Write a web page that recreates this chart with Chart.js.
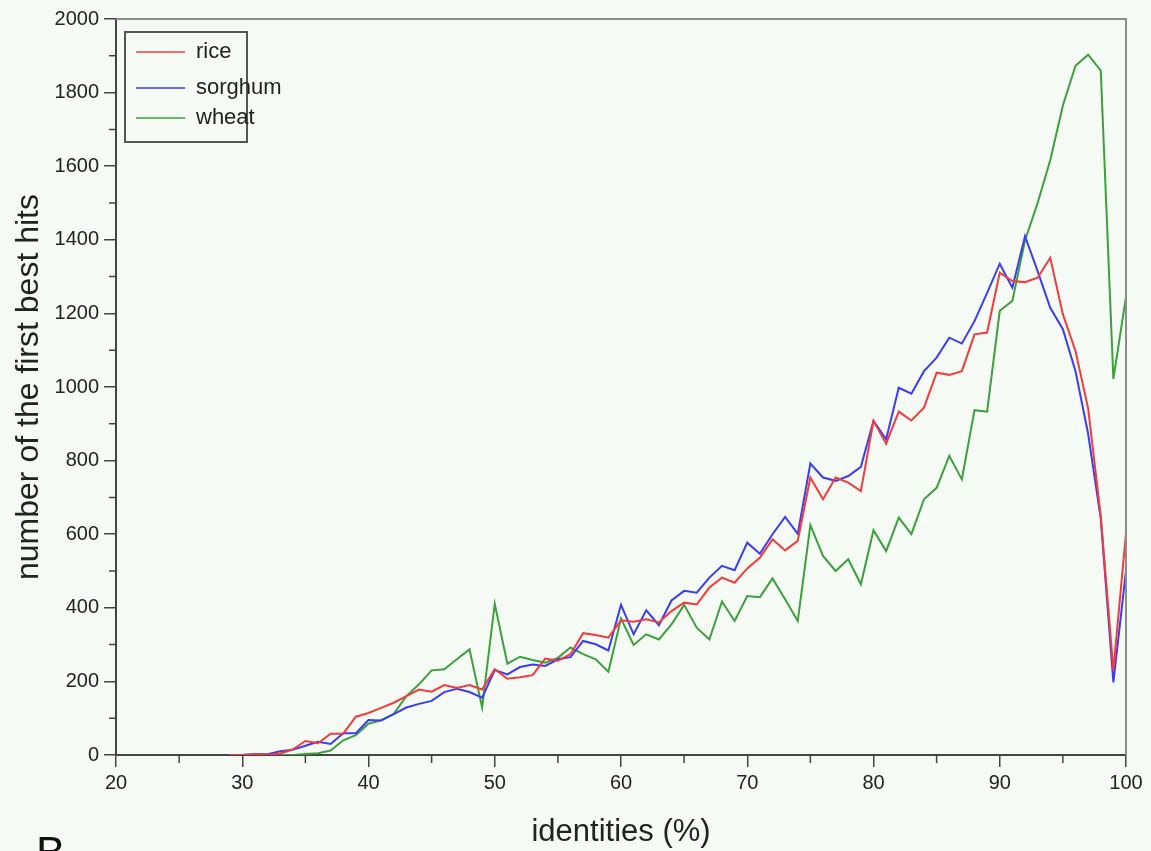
<!DOCTYPE html>
<html>
<head>
<meta charset="utf-8">
<script src="https://cdn.jsdelivr.net/npm/chart.js@4.4.1/dist/chart.umd.min.js"></script>
<style>
  html, body { margin: 0; padding: 0; background: #f5faf4; }
  #wrap { width: 1151px; height: 851px; position: relative; }
</style>
</head>
<body>
<div id="wrap"><canvas id="hits" width="1151" height="851"></canvas></div>
<script>
// identities (%) from 29 to 100
const identities = [
  29, 30, 31, 32, 33, 34, 35, 36, 37, 38, 39, 40, 41, 42, 43, 44, 45, 46, 47, 48,
  49, 50, 51, 52, 53, 54, 55, 56, 57, 58, 59, 60, 61, 62, 63, 64, 65, 66, 67, 68,
  69, 70, 71, 72, 73, 74, 75, 76, 77, 78, 79, 80, 81, 82, 83, 84, 85, 86, 87, 88,
  89, 90, 91, 92, 93, 94, 95, 96, 97, 98, 99, 100
];

const rice = [
  0, 0, 2, 1, 4, 15, 38, 32, 58, 58, 104, 114, 128, 142, 160, 178, 172, 190, 182, 190,
  178, 233, 207, 211, 217, 262, 256, 274, 331, 326, 319, 366, 362, 369, 360, 391, 414, 409, 455, 482,
  468, 507, 536, 586, 556, 582, 754, 695, 754, 740, 717, 908, 846, 933, 909, 944, 1039, 1033, 1043, 1143,
  1148, 1311, 1288, 1285, 1297, 1351, 1198, 1098, 942, 650, 230, 603
];

const sorghum = [
  0, 0, 3, 2, 10, 14, 25, 36, 30, 59, 59, 95, 94, 111, 129, 139, 147, 171, 180, 171,
  156, 231, 219, 239, 246, 242, 260, 266, 310, 301, 284, 408, 328, 393, 353, 420, 446, 441, 482, 514,
  502, 577, 547, 600, 647, 601, 792, 754, 745, 758, 783, 908, 858, 998, 982, 1043, 1080, 1134, 1118, 1179,
  1256, 1335, 1270, 1410, 1315, 1215, 1157, 1043, 873, 643, 197, 501
];

const wheat = [
  null, null, 0, 0, 0, 0, 3, 5, 12, 40, 54, 85, 94, 112, 160, 192, 230, 233, 260, 287,
  129, 411, 248, 267, 258, 251, 264, 292, 274, 260, 226, 371, 299, 328, 314, 355, 408, 346, 314, 417,
  364, 432, 429, 480, 423, 364, 625, 541, 500, 532, 464, 611, 554, 645, 600, 695, 726, 813, 749, 937,
  933, 1207, 1234, 1398, 1500, 1616, 1765, 1873, 1903, 1860, 1022, 1245
];

const seriesNames = ['rice', 'sorghum', 'wheat'];
const seriesColors = ['#f03c3c', '#3c3cf0', '#3ca03c'];

// tick values
const xMinorTicks = [25, 35, 45, 55, 65, 75, 85, 95];
const yMinorTicks = [100, 300, 500, 700, 900, 1100, 1300, 1500, 1700, 1900];

const FONT = '"Liberation Sans", Arial, sans-serif';
const AXIS_COLOR = '#444';

function toPoints(values) {
    return identities.map((x, i) => ({ x, y: values[i] }));
}

// border, minor ticks, boxed legend and the panel letter
const framePlugin = {
    id: 'frame',
    afterDraw(chart) {
        const { ctx, chartArea: a, scales: { x, y } } = chart;
        ctx.save();

        // top and right border of the plot box
        ctx.strokeStyle = '#8c8c8c';
        ctx.lineWidth = 2;
        ctx.beginPath();
        ctx.moveTo(a.left, a.top);
        ctx.lineTo(a.right, a.top);
        ctx.lineTo(a.right, a.bottom);
        ctx.stroke();

        // minor ticks
        ctx.strokeStyle = AXIS_COLOR;
        ctx.lineWidth = 1.5;
        ctx.beginPath();
        yMinorTicks.forEach(v => {
            const py = y.getPixelForValue(v);
            ctx.moveTo(a.left - 7, py);
            ctx.lineTo(a.left, py);
        });
        xMinorTicks.forEach(v => {
            const px = x.getPixelForValue(v);
            ctx.moveTo(px, a.bottom);
            ctx.lineTo(px, a.bottom + 8);
        });
        ctx.stroke();

        // legend box
        ctx.strokeStyle = '#555';
        ctx.lineWidth = 2;
        ctx.strokeRect(125, 32, 122, 110);
        const rows = [52, 88, 118];
        ctx.font = '22px ' + FONT;
        ctx.textBaseline = 'middle';
        ctx.textAlign = 'left';
        chart.data.datasets.forEach((ds, i) => {
            ctx.strokeStyle = ds.borderColor;
            ctx.lineWidth = 1.5;
            ctx.beginPath();
            ctx.moveTo(136, rows[i]);
            ctx.lineTo(185, rows[i]);
            ctx.stroke();
            ctx.fillStyle = '#222';
            ctx.fillText(ds.label, 196, rows[i]);
        });

        // panel letter, cut by the bottom edge
        ctx.fillStyle = '#111';
        ctx.font = '44px ' + FONT;
        ctx.textBaseline = 'top';
        ctx.fillText('B', 36, 834);

        ctx.restore();
    }
};

const ctx = document.getElementById('hits').getContext('2d');

new Chart(ctx, {
    type: 'line',
    data: {
        datasets: [rice, sorghum, wheat].map((values, i) => ({
            label: seriesNames[i],
            data: toPoints(values),
            borderColor: seriesColors[i],
            backgroundColor: seriesColors[i],
            borderWidth: 2,
            pointRadius: 0,
            tension: 0,
            fill: false,
            spanGaps: false
        }))
    },
    options: {
        responsive: false,
        animation: false,
        devicePixelRatio: 1,
        layout: { padding: { top: 19, right: 25, left: 0, bottom: 0 } },
        plugins: {
            legend: { display: false },
            tooltip: { enabled: false }
        },
        scales: {
            x: {
                type: 'linear',
                min: 20,
                max: 100,
                afterFit: scale => { scale.height = 96; },
                ticks: {
                    stepSize: 10,
                    color: '#222',
                    padding: 4,
                    callback: v => String(v),
                    font: { family: FONT, size: 20 }
                },
                grid: {
                    drawOnChartArea: false,
                    tickLength: 12,
                    color: AXIS_COLOR,
                    lineWidth: 1.5
                },
                border: { color: AXIS_COLOR, width: 2 },
                title: {
                    display: true,
                    text: 'identities (%)',
                    color: '#222',
                    padding: { top: 0, bottom: 0 },
                    font: { family: FONT, size: 31 }
                }
            },
            y: {
                min: 0,
                max: 2000,
                afterFit: scale => { scale.width = 116; },
                ticks: {
                    stepSize: 200,
                    color: '#222',
                    padding: 5,
                    callback: v => String(v),
                    font: { family: FONT, size: 20 }
                },
                grid: {
                    drawOnChartArea: false,
                    tickLength: 12,
                    color: AXIS_COLOR,
                    lineWidth: 1.5
                },
                border: { color: AXIS_COLOR, width: 2 },
                title: {
                    display: true,
                    text: 'number of the first best hits',
                    color: '#222',
                    padding: { top: 10, bottom: 0 },
                    font: { family: FONT, size: 32 }
                }
            }
        }
    },
    plugins: [framePlugin]
});
</script>
</body>
</html>
